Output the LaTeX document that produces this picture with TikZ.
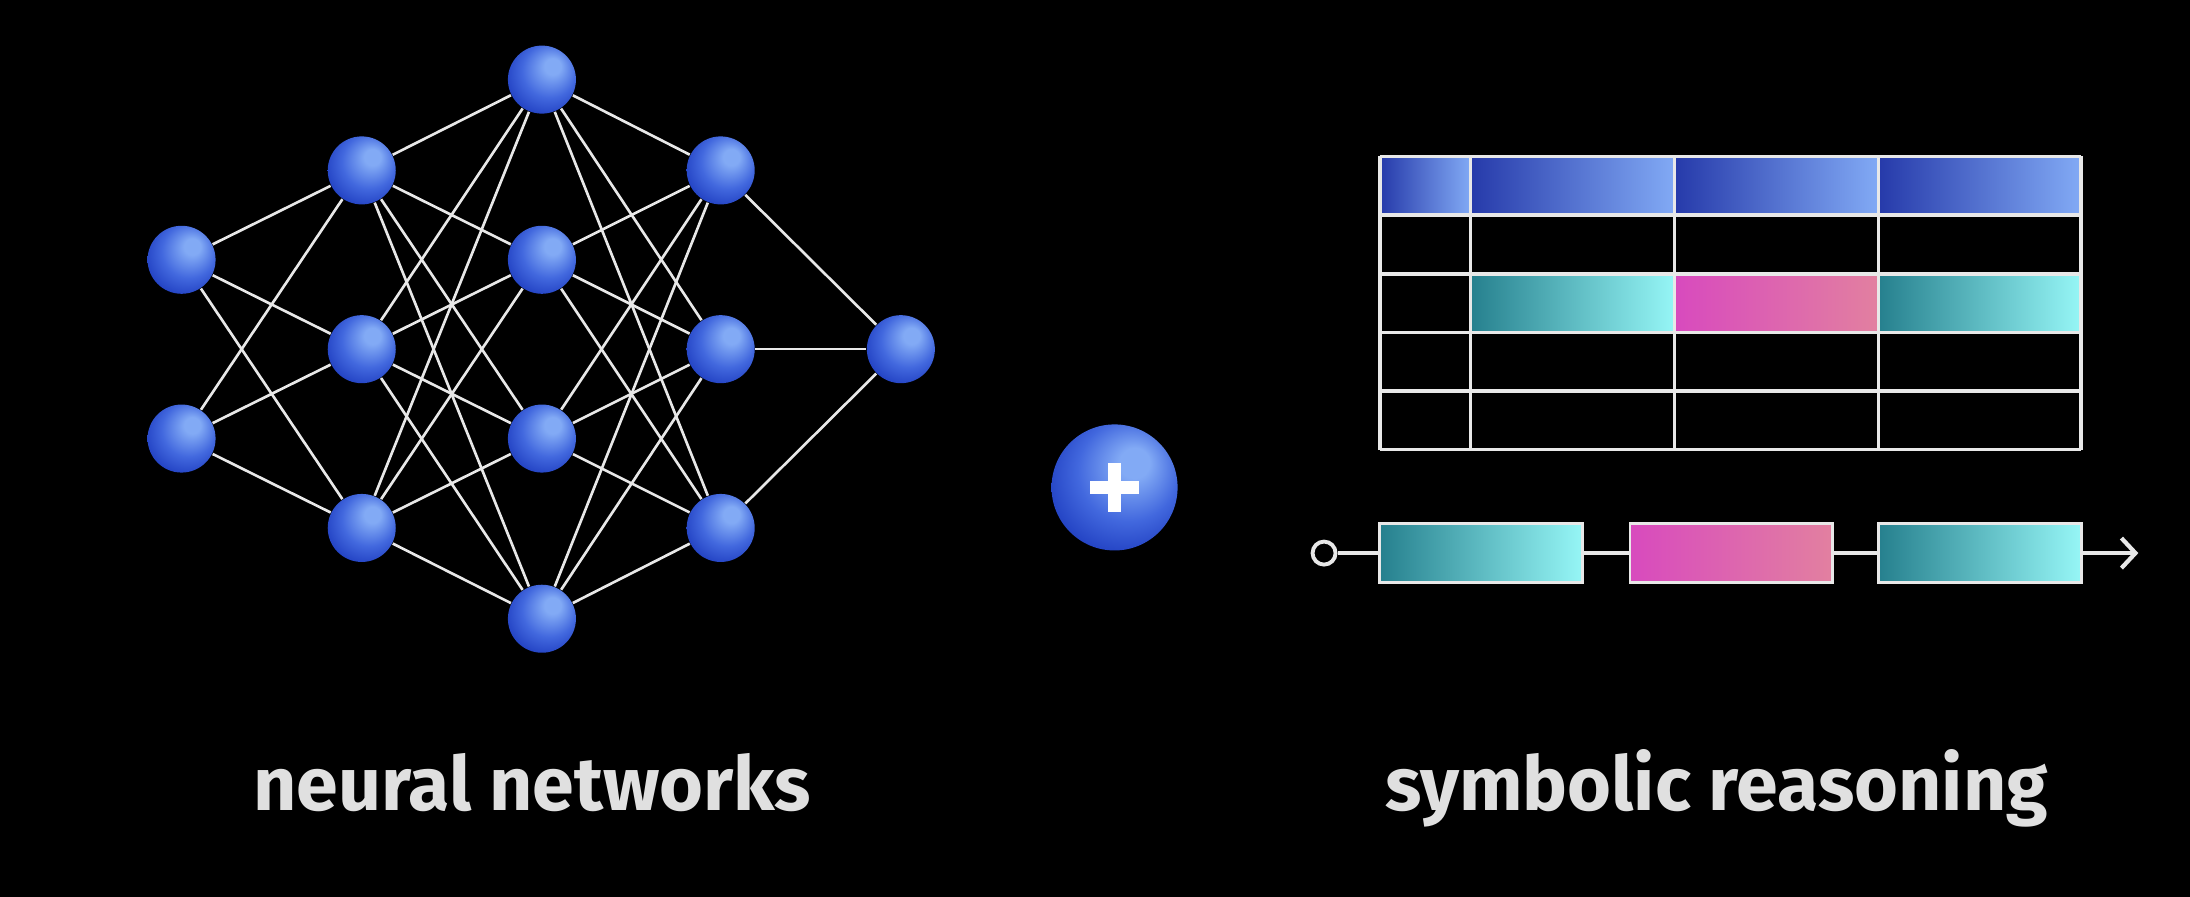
\documentclass[tikz,border=0pt]{standalone}
\usepackage{fontspec}
\setmainfont{Fira Sans}
\usetikzlibrary{arrows.meta}
\definecolor{nlight}{RGB}{130,170,245}
\definecolor{nmid}{RGB}{66,104,222}
\definecolor{ndark}{RGB}{26,56,188}
\definecolor{linegray}{RGB}{232,232,232}
\definecolor{textgray}{RGB}{224,224,224}
\definecolor{hdark}{RGB}{38,58,170}
\definecolor{hmid}{RGB}{104,142,228}
\definecolor{hlight}{RGB}{130,170,245}
\definecolor{cdark}{RGB}{38,128,142}
\definecolor{cmid}{RGB}{104,212,218}
\definecolor{clight}{RGB}{150,246,246}
\definecolor{pdark}{RGB}{216,74,190}
\definecolor{pmid}{RGB}{220,100,175}
\definecolor{plight}{RGB}{226,128,160}
\pgfdeclareradialshading{nball}{\pgfpoint{9bp}{11bp}}{color(0bp)=(nlight); color(6bp)=(nlight); color(20bp)=(nmid); color(34bp)=(ndark); color(50bp)=(ndark)}
\tikzset{
  neuron/.style={circle, minimum size=0.68cm, inner sep=0pt, shading=nball},
  edge/.style={draw=linegray, line width=0.75pt},
  grid/.style={draw=linegray, line width=1pt},
  chainline/.style={draw=linegray, line width=1.2pt},
  cyanbox/.style={draw=linegray, line width=0.8pt, minimum width=2.025cm, minimum height=0.587cm, inner sep=0pt, left color=cdark, middle color=cmid, right color=clight},
  pinkbox/.style={draw=linegray, line width=0.8pt, minimum width=2.025cm, minimum height=0.587cm, inner sep=0pt, left color=pdark, middle color=pmid, right color=plight},
  caption/.style={text=textgray, font=\fontsize{21.4}{25}\selectfont\bfseries, anchor=base, inner sep=0pt}
}
\begin{document}
\begin{tikzpicture}[x=0.013967cm, y=-0.013967cm]
\fill[black] (0,0) rectangle (1568,642);
\useasboundingbox (0,0) rectangle (1568,642);
% network nodes
\node[neuron] (n11) at (130,186) {};
\node[neuron] (n12) at (130,314) {};
\node[neuron] (n21) at (259,122) {};
\node[neuron] (n22) at (259,250) {};
\node[neuron] (n23) at (259,378) {};
\node[neuron] (n31) at (388,57) {};
\node[neuron] (n32) at (388,186) {};
\node[neuron] (n33) at (388,314) {};
\node[neuron] (n34) at (388,443) {};
\node[neuron] (n41) at (516,122) {};
\node[neuron] (n42) at (516,250) {};
\node[neuron] (n43) at (516,378) {};
\node[neuron] (n51) at (645,250) {};
\foreach \a in {11,12} \foreach \b in {21,22,23} \draw[edge] (n\a) -- (n\b);
\foreach \a in {21,22,23} \foreach \b in {31,32,33,34} \draw[edge] (n\a) -- (n\b);
\foreach \a in {31,32,33,34} \foreach \b in {41,42,43} \draw[edge] (n\a) -- (n\b);
\foreach \a in {41,42,43} \draw[edge] (n\a) -- (n51);
% plus
\node[circle, minimum size=1.26cm, inner sep=0pt, shading=nball] (plus) at (798,349) {};
\fill[white] ([xshift=-0.245cm,yshift=-0.066cm]plus.center) rectangle ([xshift=0.245cm,yshift=0.066cm]plus.center);
\fill[white] ([xshift=-0.066cm,yshift=-0.245cm]plus.center) rectangle ([xshift=0.066cm,yshift=0.245cm]plus.center);
% table
\foreach \xa/\xb in {988/1053,1053/1199,1199/1345,1345/1490}
  \shade[left color=hdark, middle color=hmid, right color=hlight] (\xa,112) rectangle (\xb,154);
\shade[left color=cdark, middle color=cmid, right color=clight] (1053,196) rectangle (1199,238);
\shade[left color=pdark, middle color=pmid, right color=plight] (1199,196) rectangle (1345,238);
\shade[left color=cdark, middle color=cmid, right color=clight] (1345,196) rectangle (1490,238);
\foreach \y in {112,154,196,238,280,322} \draw[grid] (988,\y) -- (1490,\y);
\foreach \x in {988,1053,1199,1345,1490} \draw[grid] (\x,112) -- (\x,322);
% chain
\node[circle, draw=linegray, line width=1.1pt, fill=black, minimum size=0.23cm, inner sep=0pt] (start) at (948,396) {};
\node[cyanbox] (b1) at (1060.5,396) {};
\node[pinkbox] (b2) at (1239.5,396) {};
\node[cyanbox] (b3) at (1417.5,396) {};
\coordinate (end) at (1531,396);
\draw[chainline] (start) -- (b1);
\draw[chainline] (b1) -- (b2);
\draw[chainline] (b2) -- (b3);
\draw[chainline, -{Straight Barb[length=0.14cm, width=0.30cm, line width=1.2pt]}] (b3) -- (end);
% captions
\node[caption] (capn) at (381,580) {neural networks};
\node[caption] (caps) at (1229,580) {symbolic reasoning};
\end{tikzpicture}
\end{document}
